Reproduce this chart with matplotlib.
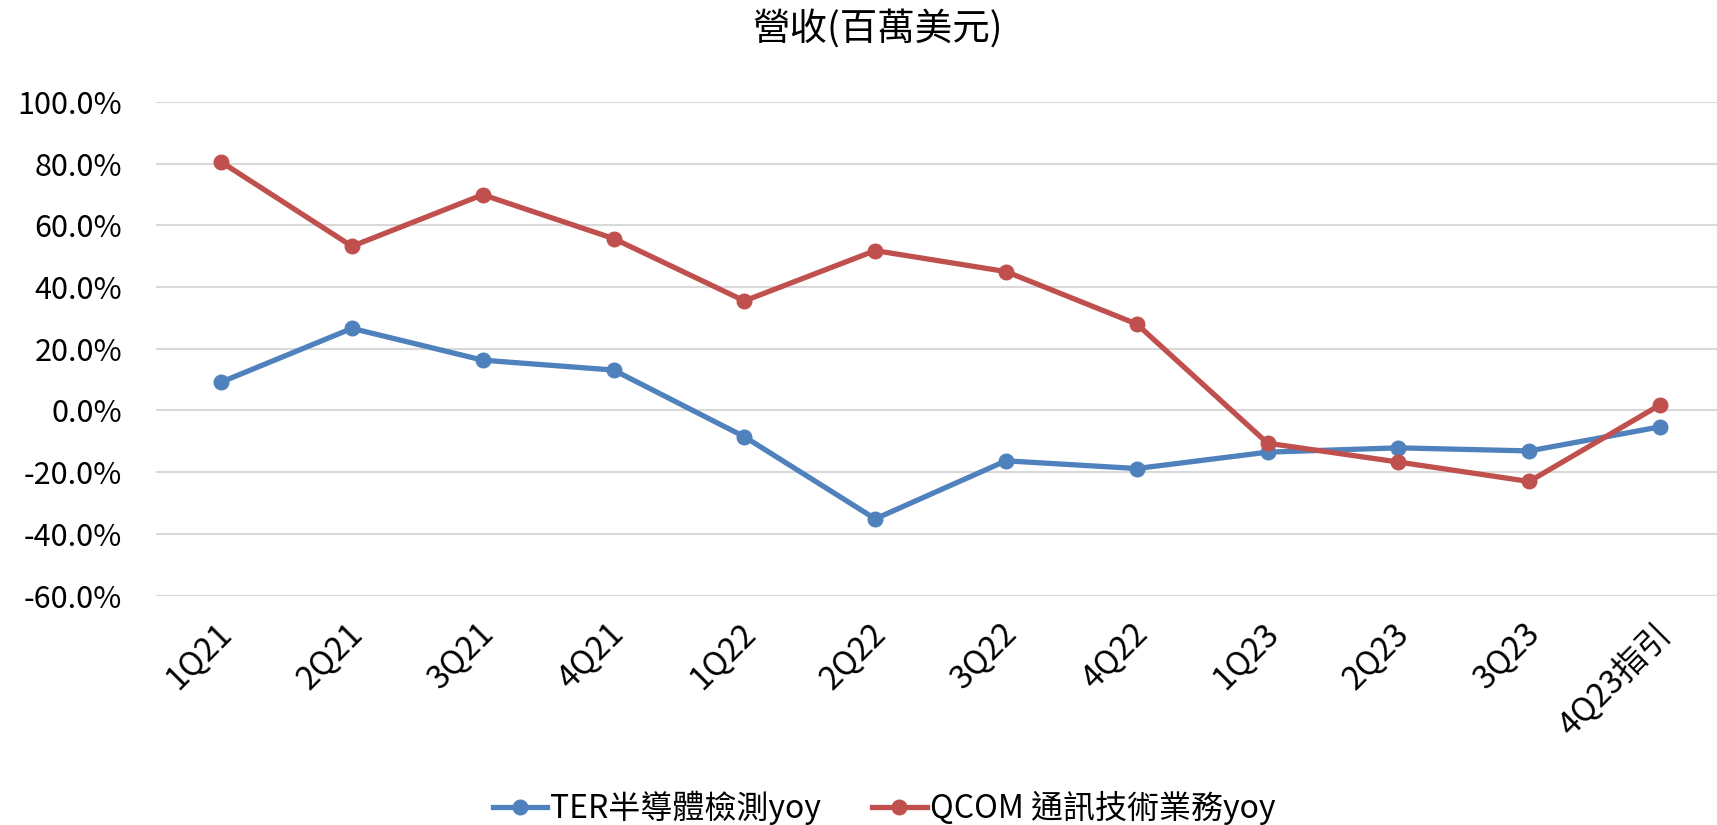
import matplotlib
matplotlib.use('Agg')
import matplotlib.pyplot as plt
import matplotlib.transforms as mtransforms
from matplotlib.ticker import FuncFormatter

plt.rcParams['font.family'] = ['Noto Sans CJK TC', 'DejaVu Sans']

quarters = ['1Q21', '2Q21', '3Q21', '4Q21', '1Q22', '2Q22', '3Q22', '4Q22',
            '1Q23', '2Q23', '3Q23', '4Q23指引']
ter_yoy = [9.2, 26.6, 16.3, 13.1, -8.5, -35.1, -16.3, -18.8, -13.5, -12.1, -13.1, -5.3]
qcom_yoy = [80.5, 53.2, 69.9, 55.7, 35.5, 51.8, 45.0, 28.0, -10.6, -16.7, -23.0, 1.8]
yticks = [100, 80, 60, 40, 20, 0, -20, -40, -60]

blue = '#4F81BD'
red = '#C0504D'

fig = plt.figure(figsize=(17.17, 8.25), dpi=100)
ax = fig.add_axes([155.8 / 1717, 1 - 595.7 / 825, (1725.4 - 155.8) / 1717, (595.7 - 101.8) / 825])

x = list(range(len(quarters)))
ax.plot(x, ter_yoy, color=blue, lw=3.8, marker='o', ms=10.5, label='TER半導體檢測yoy', zorder=3)
ax.plot(x, qcom_yoy, color=red, lw=3.8, marker='o', ms=10.5, label='QCOM 通訊技術業務yoy', zorder=3)

ax.set_xlim(-0.5, len(quarters) - 0.5)
ax.set_ylim(-60, 100)
ax.set_yticks(yticks)
ax.yaxis.set_major_formatter(FuncFormatter(lambda v, p: f'{v:.1f}%'))
ax.grid(axis='y', color='#D9D9D9', lw=1.5)
ax.set_axisbelow(True)
for s in ax.spines.values():
    s.set_visible(False)
ax.tick_params(axis='y', length=0, pad=24, labelsize=22)
ax.tick_params(axis='x', length=0, pad=12, labelsize=23.5)

ax.set_xticks(x)
ax.set_xticklabels(quarters, rotation=45, ha='right', va='center', rotation_mode='anchor')
shift = mtransforms.ScaledTranslation(0.06, -0.17, fig.dpi_scale_trans)
for lab in ax.get_xticklabels():
    lab.set_transform(lab.get_transform() + shift)

fig.suptitle('營收(百萬美元)', x=878 / 1717, y=1 - 10 / 825, va='top', fontsize=27)

fig.legend(loc='center', bbox_to_anchor=(884 / 1717, 1 - 808 / 825), ncol=2, frameon=False,
           fontsize=23, handlelength=1.7, handletextpad=0.1, columnspacing=1.6)

fig.savefig('out.png', dpi=100)
